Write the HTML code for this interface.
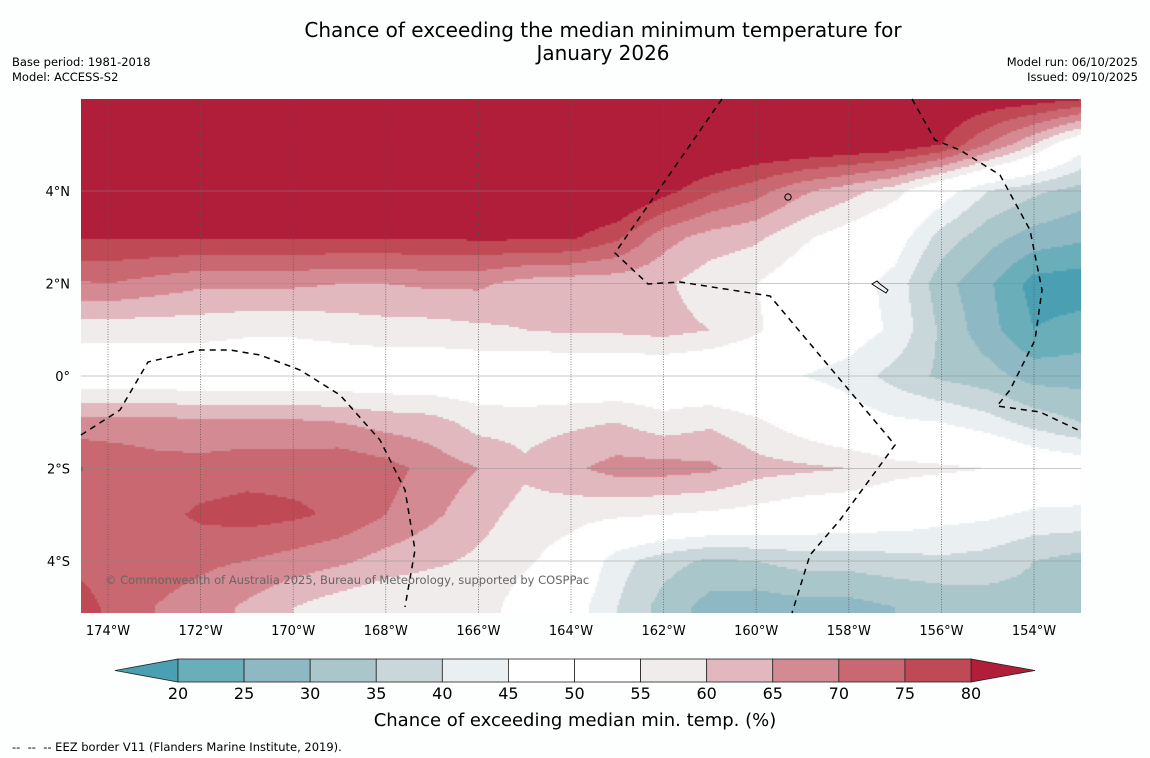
<!DOCTYPE html>
<html><head><meta charset="utf-8">
<style>
body{margin:0;background:#fdfefe;width:1150px;height:758px;overflow:hidden;font-family:"DejaVu Sans","Liberation Sans",sans-serif;}
.abs{position:absolute;}
</style></head>
<body>
<div style="position:relative;width:1150px;height:758px;">
<div class="abs" style="left:0;width:1206px;top:19px;text-align:center;font-size:20px;line-height:23px;color:#000;">Chance of exceeding the median minimum temperature for<br>January 2026</div>
<div class="abs" style="left:12px;top:55px;font-size:11.5px;line-height:15px;">Base period: 1981-2018<br>Model: ACCESS-S2</div>
<div class="abs" style="right:12px;top:55px;font-size:11.5px;line-height:15px;text-align:right;">Model run: 06/10/2025<br>Issued: 09/10/2025</div>
<canvas id="map" class="abs" style="left:81px;top:99px;" width="1000" height="514"></canvas>
<svg id="ov" class="abs" style="left:0;top:0;" width="1150" height="758"></svg>
<div class="abs" style="left:12px;top:740px;font-size:11.5px;">--&nbsp; --&nbsp; -- EEZ border V11 (Flanders Marine Institute, 2019).</div>
</div>
<script>
const lons=[-175,-174,-173,-172,-171,-170,-169,-168,-167,-166,-165,-164,-163,-162,-161,-160,-159,-158,-157,-156,-155,-154,-153];
const lats=[6,5,4,3,2,1,0,-1,-2,-3,-4,-5];
const row6=[88,88,88,88,88,88,88,88,88,88,88,88,88,88,88,88,88,88,88,86,84,83,81];
const row5=[88,88,88,88,88,88,88,88,88,88,88,88,88,88,88,86,86,85,84,80,70,60,48];
const row4=[88,88,88,88,88,88,88,88,88,88,88,88,88,82,76,72,66,62,57,48,40,36,33];
const row3=[80.5,80.5,80.5,80.5,80.5,80.5,80.5,80.5,80.5,81,81,81,76,67,63,61,56,52,48,38,32,28,26];
const row2=[69,70,68,66,66,66,65,65,66,66,63,62,62,61,57,55,51,48,43,32,26,18,17];
const row1=[57,57,57,57,56,56,57,58,58,59,60,61,61,62,60,56,50,48,44,34,27,20,22];
const row0=[50,50,50,50,50,50,50,50,50,50,49,49,49,49,48,47,45,43,38,34,32,28,28];
const rowS1=[67,67,67,66,66,66,65,63,62,58,58,59,60,57,59,56,52,48,46,45,42,38,35];
const rowS2=[76,74,72,72,73,73,74,72,68,65,61,64,67,67,66,62,61,60,57,56,55,51,49];
const rowS3=[72,72,73,76,77,76,74,70,66,62,58,57,56,55,54,53,51,50,49,47,46,44,44];
const rowS4=[74,72,72,71,70,68,66,63,61,59,56,52,42,37,34,35,37,37,38,39,38,35,33];
const rowS5=[80,74,70,68,64,60,57,55,55,58,52,48,40,33,28,27,28,28,30,31,32,33,34];
const grid=[row6,row5,row4,row3,row2,row1,row0,rowS1,rowS2,rowS3,rowS4,rowS5];
const levels=[20,25,30,35,40,45,50,55,60,65,70,75,80];
const colors=['#4aa0b2','#69aeb9','#8db8c4','#a9c6ca','#cad7da','#eaf0f2','#ffffff','#ffffff','#efeceb','#e0b8bd','#d48a93','#c96870','#bf4a55','#b01e3a'];
const tickLons=[-174,-172,-170,-168,-166,-164,-162,-160,-158,-156,-154];
const tickLats=[4,2,0,-2,-4];

const X0=81,Y0=99,W=1000,H=514;
function xOf(lon){return 108+(lon+174)*46.3;}
function yOf(lat){return 376-lat*46.25;}
function lonOf(x){return (x-108)/46.3-174;}
function latOf(y){return (376-y)/46.25;}
function colorFor(v){let i=0;while(i<levels.length&&v>=levels[i])i++;return colors[i];}
function valAt(lon,lat){
  let fx=(lon-lons[0]);let fy=(lats[0]-lat);
  fx=Math.max(0,Math.min(lons.length-1.0001,fx));fy=Math.max(0,Math.min(lats.length-1.0001,fy));
  const i=Math.floor(fx),j=Math.floor(fy),tx=fx-i,ty=fy-j;
  const a=grid[j][i],b=grid[j][i+1],c=grid[j+1][i],d=grid[j+1][i+1];
  return a*(1-tx)*(1-ty)+b*tx*(1-ty)+c*(1-tx)*ty+d*tx*ty;
}
const ctx=document.getElementById('map').getContext('2d');
const S=2;
for(let py=0;py<H;py+=S){for(let px=0;px<W;px+=S){
  const v=valAt(lonOf(X0+px+S/2),latOf(Y0+py+S/2));
  ctx.fillStyle=colorFor(v);ctx.fillRect(px,py,S,S);
}}
const NS='http://www.w3.org/2000/svg';
const svg=document.getElementById('ov');
const FF='DejaVu Sans, Liberation Sans, sans-serif';
function mk(tag,attrs,parent){const e=document.createElementNS(NS,tag);for(const k in attrs)e.setAttribute(k,attrs[k]);(parent||svg).appendChild(e);return e;}
tickLats.forEach(l=>{const e=mk('line',{x1:X0,x2:X0+W,y1:yOf(l),y2:yOf(l),stroke:'#888',"stroke-width":0.7,"stroke-opacity":0.6});


const t=mk('text',{x:70,y:yOf(l)+5,"text-anchor":"end","font-size":13,fill:'#000',"font-family":FF});
t.textContent=(l===0?'0°':Math.abs(l)+'°'+(l>0?'N':'S'));

});
tickLons.forEach(l=>{const e=mk('line',{x1:xOf(l),x2:xOf(l),y1:Y0,y2:Y0+H,stroke:'#555',"stroke-width":0.7,"stroke-dasharray":"1,1.5"});


const t=mk('text',{x:xOf(l),y:635,"text-anchor":"middle","font-size":13,fill:'#000',"font-family":FF});
t.textContent=Math.abs(l)+'°W';

});
const eez=[
 "M722,99 L615,253 L648,284 L680,282 L770,296 L895,445 L840,520 L810,555 L792,613",
 "M912,99 L935,140 L960,150 L1000,175 L1030,230 L1042,290 L1035,340 L1010,390 L997,406 L1040,412 L1078,430",
 "M81,435 L120,410 L148,362 L200,350 L230,350 L260,355 L300,370 L340,395 L380,440 L405,490 L415,550 L405,607"];
eez.forEach(d=>{const e=mk('path',{d:d,fill:'none',stroke:'#000',"stroke-width":1.5,"stroke-dasharray":"6,5"});

});
const isl=mk('path',{d:"M872,284 l5,-3 l3,3 l8,6 l-2,3 l-8,-5 z M785,196 a3,3 0 1,0 6,2 a3,3 0 1,0 -6,-2",fill:'none',stroke:'#000',"stroke-width":1});


const cp=mk('text',{x:105,y:584,"font-size":11.5,fill:'#666',"font-family":FF});
cp.textContent='© Commonwealth of Australia 2025, Bureau of Meteorology, supported by COSPPac';


const cbx0=178,cbx1=971,cby=659,cbh=23,step=(cbx1-cbx0)/12;
const lt=mk('polygon',{points:`115,${cby+cbh/2} ${cbx0},${cby} ${cbx0},${cby+cbh}`,fill:colors[0],stroke:'#222',"stroke-width":0.8});


const rt=mk('polygon',{points:`1035,${cby+cbh/2} ${cbx1},${cby} ${cbx1},${cby+cbh}`,fill:colors[13],stroke:'#222',"stroke-width":0.8});


for(let i=0;i<12;i++){const r=mk('rect',{x:cbx0+i*step,y:cby,width:step,height:cbh,fill:colors[i+1],stroke:'#222',"stroke-width":0.8});

}
levels.forEach((l,i)=>{const t=mk('text',{x:cbx0+i*step,y:699,"text-anchor":"middle","font-size":16,fill:'#000',"font-family":FF});t.textContent=l;

});
const ct=mk('text',{x:575,y:726,"text-anchor":"middle","font-size":18,fill:'#000',"font-family":FF});
ct.textContent='Chance of exceeding median min. temp. (%)';


</script>
</body></html>
